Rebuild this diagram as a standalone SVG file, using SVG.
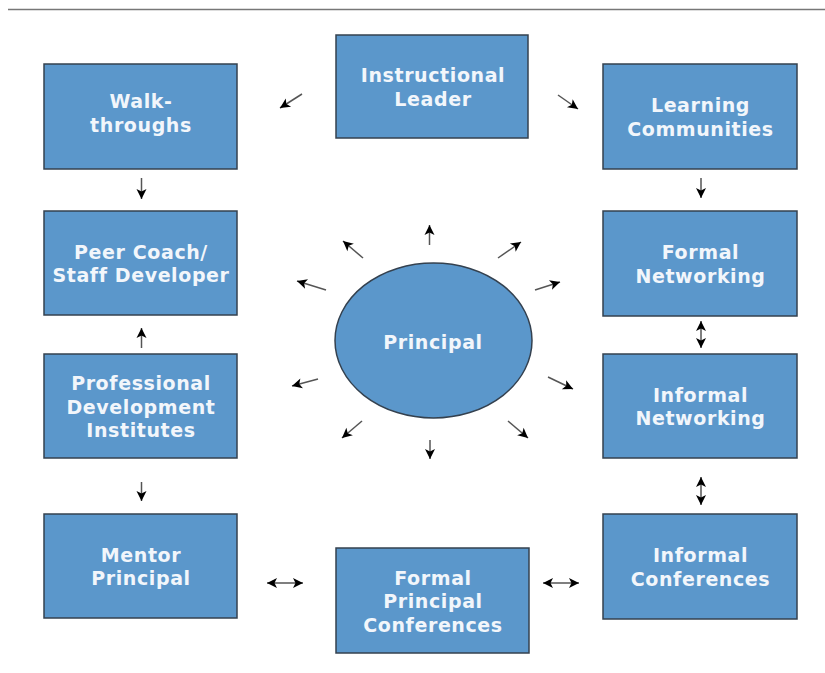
<svg xmlns="http://www.w3.org/2000/svg" width="825" height="673" viewBox="0 0 825 673">
<style>
.box{fill:#5b97cb;stroke:#34414f;stroke-width:1.5}
.lbl{font-family:"DejaVu Sans","Open Sans",sans-serif;font-weight:bold;font-size:19px;fill:#f2f6fb;text-anchor:middle;letter-spacing:0.6px}
.arr{stroke:#555;stroke-width:1.5;fill:none;marker-end:url(#ah)}
.dbl{stroke:#555;stroke-width:1.5;fill:none;marker-end:url(#ah);marker-start:url(#ah)}
</style>
<defs>
<marker id="ah" markerUnits="userSpaceOnUse" markerWidth="14" markerHeight="14" viewBox="0 0 14 14" refX="11" refY="7" orient="auto-start-reverse">
<path d="M1,2 L11,7 L1,12 L3.5,7 Z" fill="#000"/>
</marker>
</defs>
<rect width="825" height="673" fill="#fff"/>
<line x1="8" y1="9.5" x2="825" y2="9.5" stroke="#777" stroke-width="1.5"/>

<g id="instructional-leader">
<rect class="box" x="336" y="35" width="192" height="103"/>
<text class="lbl" x="433" y="82">Instructional</text>
<text class="lbl" x="433" y="105.5">Leader</text>
</g>
<g id="walk-throughs">
<rect class="box" x="44" y="64" width="193" height="105"/>
<text class="lbl" x="141" y="108">Walk-</text>
<text class="lbl" x="141" y="131.5">throughs</text>
</g>
<g id="learning-communities">
<rect class="box" x="603" y="64" width="194" height="105"/>
<text class="lbl" x="700.5" y="112">Learning</text>
<text class="lbl" x="700.5" y="135.5">Communities</text>
</g>
<g id="peer-coach">
<rect class="box" x="44" y="211" width="193" height="104"/>
<text class="lbl" x="141" y="258.5">Peer Coach/</text>
<text class="lbl" x="141" y="282">Staff Developer</text>
</g>
<g id="formal-networking">
<rect class="box" x="603" y="211" width="194" height="105"/>
<text class="lbl" x="700.5" y="259">Formal</text>
<text class="lbl" x="700.5" y="282.5">Networking</text>
</g>
<g id="principal">
<ellipse cx="433.5" cy="340.5" rx="98.5" ry="77.5" fill="#5b97cb" stroke="#34414f" stroke-width="1.5"/>
<text class="lbl" x="433" y="349">Principal</text>
</g>
<g id="professional-development">
<rect class="box" x="44" y="354" width="193" height="104"/>
<text class="lbl" x="141" y="390">Professional</text>
<text class="lbl" x="141" y="413.5">Development</text>
<text class="lbl" x="141" y="437">Institutes</text>
</g>
<g id="informal-networking">
<rect class="box" x="603" y="354" width="194" height="104"/>
<text class="lbl" x="700.5" y="401.5">Informal</text>
<text class="lbl" x="700.5" y="425">Networking</text>
</g>
<g id="mentor-principal">
<rect class="box" x="44" y="514" width="193" height="104"/>
<text class="lbl" x="141" y="561.5">Mentor</text>
<text class="lbl" x="141" y="585">Principal</text>
</g>
<g id="formal-principal-conferences">
<rect class="box" x="336" y="548" width="193" height="105"/>
<text class="lbl" x="433" y="584.5">Formal</text>
<text class="lbl" x="433" y="608">Principal</text>
<text class="lbl" x="433" y="631.5">Conferences</text>
</g>
<g id="informal-conferences">
<rect class="box" x="603" y="514" width="194" height="105"/>
<text class="lbl" x="700.5" y="562">Informal</text>
<text class="lbl" x="700.5" y="585.5">Conferences</text>
</g>

<g id="connectors">
<line class="arr" x1="302" y1="94" x2="280" y2="108"/>
<line class="arr" x1="558" y1="95" x2="578" y2="109"/>
<line class="arr" x1="141.5" y1="178" x2="141.5" y2="199"/>
<line class="arr" x1="701" y1="178" x2="701" y2="198"/>
<line class="arr" x1="141.5" y1="348" x2="141.5" y2="328"/>
<line class="arr" x1="141.5" y1="482" x2="141.5" y2="501"/>
<line class="dbl" x1="701" y1="321" x2="701" y2="348"/>
<line class="dbl" x1="701" y1="477" x2="701" y2="505"/>
<line class="dbl" x1="267" y1="583" x2="303" y2="583"/>
<line class="dbl" x1="543" y1="583" x2="579" y2="583"/>
<line class="arr" x1="429.5" y1="245" x2="429.5" y2="225"/>
<line class="arr" x1="363" y1="258" x2="343" y2="241"/>
<line class="arr" x1="498" y1="258" x2="521" y2="242"/>
<line class="arr" x1="326" y1="290" x2="297" y2="281"/>
<line class="arr" x1="535" y1="290" x2="560" y2="282"/>
<line class="arr" x1="318" y1="379" x2="292" y2="386"/>
<line class="arr" x1="548" y1="377" x2="573" y2="389"/>
<line class="arr" x1="362" y1="421" x2="342" y2="438"/>
<line class="arr" x1="508" y1="421" x2="528" y2="438"/>
<line class="arr" x1="430" y1="440" x2="430" y2="459"/>
</g>
</svg>
